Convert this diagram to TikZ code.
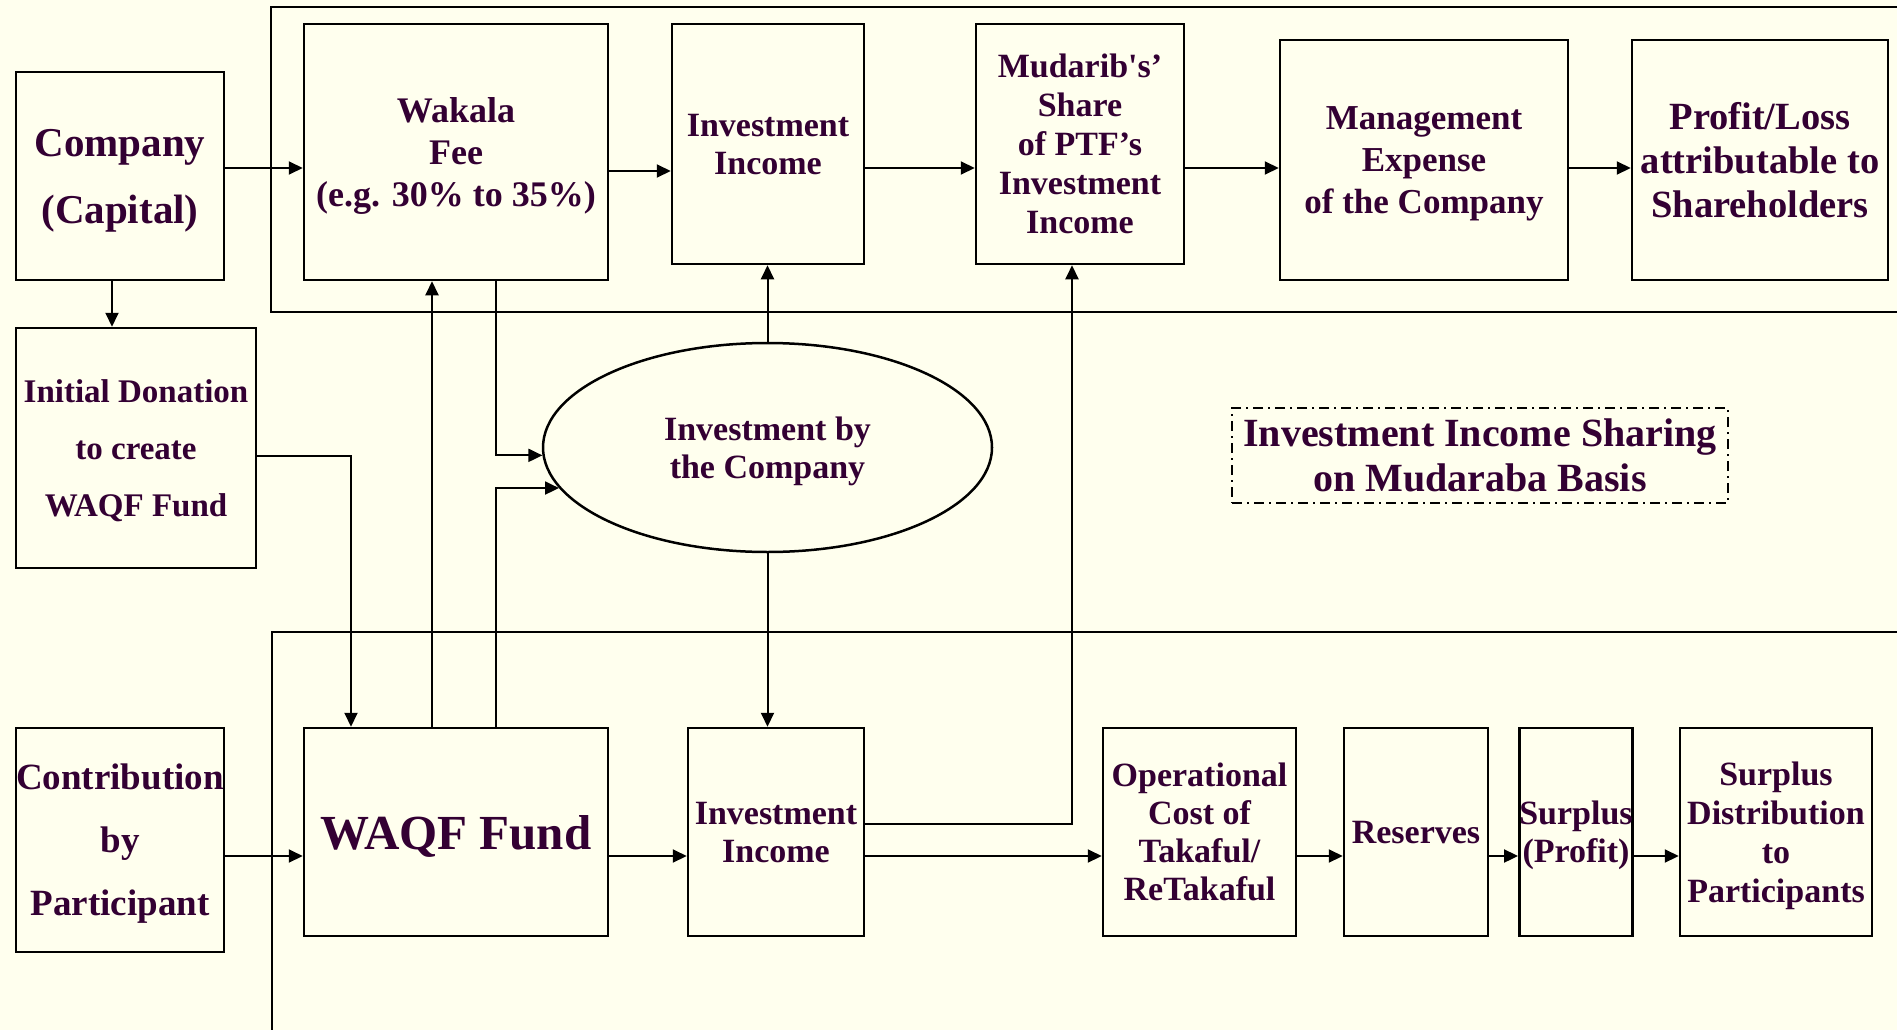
\documentclass[tikz,border=0pt]{standalone}
\usepackage{fontspec}
\setmainfont{Liberation Serif}
\usetikzlibrary{arrows.meta,shapes.geometric}
\definecolor{txt}{RGB}{51,0,51}
\definecolor{bg}{RGB}{255,255,238}
\tikzset{
  box/.style={draw=black, line width=2.5pt, fill=bg, text=txt, align=center, inner sep=0pt, text depth=0pt, font=\bfseries},
  conn/.style={draw=black, line width=2pt, -{Triangle[length=14pt,width=13pt]}},
  frame/.style={draw=black, line width=2.5pt},
}
\begin{document}
\begin{tikzpicture}[x=1pt,y=-1pt]
\useasboundingbox (0,0) rectangle (1897,1030);
\fill[bg] (0,0) rectangle (1897,1030);
\clip (0,0) rectangle (1897,1030);

% frames
\draw[frame] (271,7) rectangle (1930,312);
\draw[frame] (272,632) rectangle (1930,1060);

% top row
\node[box, minimum width=208pt, minimum height=208pt, font=\bfseries\fontsize{41}{67}\selectfont] (company) at (120,176) {Company\\(Capital)};
\node[box, minimum width=304pt, minimum height=256pt, font=\bfseries\fontsize{36}{42}\selectfont] (wakala) at (456,152) {Wakala\\Fee\\(e.g. 30\% to 35\%)};
\node[box, minimum width=192pt, minimum height=240pt, font=\bfseries\fontsize{34}{38}\selectfont] (invtop) at (768,144) {Investment\\Income};
\node[box, minimum width=208pt, minimum height=240pt, font=\bfseries\fontsize{34}{39}\selectfont] (mudarib) at (1080,144) {Mudarib\textquotesingle s'\\Share\\of PTF's\\Investment\\Income};
\node[box, minimum width=288pt, minimum height=240pt, font=\bfseries\fontsize{35}{42}\selectfont] (mgmt) at (1424,160) {Management\\Expense\\of the Company};
\node[box, minimum width=256pt, minimum height=240pt, font=\bfseries\fontsize{38.5}{44}\selectfont] (profit) at (1760,160) {Profit/Loss\\attributable to\\Shareholders};

% middle
\node[box, minimum width=240pt, minimum height=240pt, font=\bfseries\fontsize{33}{57}\selectfont] (initdon) at (136,448) {Initial Donation\\to create\\WAQF Fund};
\node[box, ellipse, minimum width=449pt, minimum height=209pt, font=\bfseries\fontsize{34}{38}\selectfont] (inv) at (767.5,447.5) {Investment by\\the Company};
\node[box, line width=2pt, dash pattern=on 10pt off 5pt on 2pt off 5pt, minimum width=496pt, minimum height=95pt, font=\bfseries\fontsize{40}{45}\selectfont] (sharing) at (1480,455.5) {Investment Income Sharing\\on Mudaraba Basis};

% bottom row
\node[box, minimum width=208pt, minimum height=224pt, font=\bfseries\fontsize{37}{63}\selectfont] (contrib) at (120,840) {Contribution\\by\\Participant};
\node[box, minimum width=304pt, minimum height=208pt, font=\bfseries\fontsize{49}{54}\selectfont] (waqf) at (456,832) {WAQF Fund};
\node[box, minimum width=176pt, minimum height=208pt, font=\bfseries\fontsize{34}{38}\selectfont] (invbot) at (776,832) {Investment\\Income};
\node[box, minimum width=193pt, minimum height=208pt, font=\bfseries\fontsize{34}{38}\selectfont] (oper) at (1199.5,832) {Operational\\Cost of\\Takaful/\\ReTakaful};
\node[box, minimum width=144pt, minimum height=208pt, font=\bfseries\fontsize{34}{38}\selectfont] (reserves) at (1416,832) {Reserves};
\node[box, minimum width=112pt, minimum height=208pt, font=\bfseries\fontsize{34}{38}\selectfont] (surplus) at (1576,832) {Surplus\\(Profit)};
\node[box, minimum width=192pt, minimum height=208pt, font=\bfseries\fontsize{34}{39}\selectfont] (sdist) at (1776,832) {Surplus\\Distribution\\to\\Participants};

% top row connectors
\draw[conn] (company.east |- 0,168) -- (wakala.west |- 0,168);
\draw[conn] (wakala.east |- 0,171) -- (invtop.west |- 0,171);
\draw[conn] (invtop.east |- 0,168) -- (mudarib.west |- 0,168);
\draw[conn] (mudarib.east |- 0,168) -- (mgmt.west |- 0,168);
\draw[conn] (mgmt.east |- 0,168) -- (profit.west |- 0,168);

% vertical links
\draw[conn] (company.south -| 112,0) -- (initdon.north -| 112,0);
\draw[conn] (initdon.east |- 0,456) -| (waqf.north -| 351,0);
\draw[conn] (waqf.north -| 432,0) -- (wakala.south -| 432,0);
\draw[conn] (wakala.south -| 496,0) |- (inv.182.17);
\draw[conn] (waqf.north -| 496,0) |- (inv.191.08);
\draw[conn] (inv.north) -- (invtop.south -| inv.north);
\draw[conn] (inv.south) -- (invbot.north -| inv.south);
\draw[conn] (invbot.east |- 0,824) -| (mudarib.south -| 1072,0);

% bottom row connectors
\draw[conn] (contrib.east |- 0,856) -- (waqf.west |- 0,856);
\draw[conn] (waqf.east |- 0,856) -- (invbot.west |- 0,856);
\draw[conn] (invbot.east |- 0,856) -- (oper.west |- 0,856);
\draw[conn] (oper.east |- 0,856) -- (reserves.west |- 0,856);
\draw[conn] (reserves.east |- 0,856) -- (surplus.west |- 0,856);
\draw[conn] (surplus.east |- 0,856) -- (sdist.west |- 0,856);
\end{tikzpicture}
\end{document}
